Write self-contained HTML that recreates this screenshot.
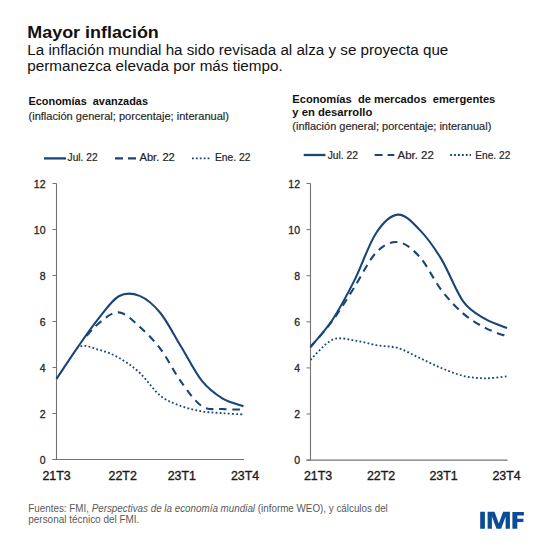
<!DOCTYPE html>
<html><head><meta charset="utf-8"><style>
html,body{margin:0;padding:0;background:#fff;}
svg{display:block;}
text{font-family:"Liberation Sans",sans-serif;white-space:pre;}
</style></head><body>
<svg width="550" height="550" viewBox="0 0 550 550">
<rect width="550" height="550" fill="#fff"/>
<defs><clipPath id="c_L_dot"><rect x="77.5" y="0" width="472.5" height="550"/></clipPath><clipPath id="c_L_dash"><rect x="84.0" y="0" width="466.0" height="550"/></clipPath></defs>
<text x="27.3" y="37.8" font-size="16.90" font-weight="bold" font-style="normal" fill="#111" text-anchor="start" textLength="131.5" lengthAdjust="spacingAndGlyphs">Mayor inflación</text>
<text x="27.3" y="54.5" font-size="14.00" font-weight="normal" font-style="normal" fill="#111" text-anchor="start" textLength="421.0" lengthAdjust="spacingAndGlyphs">La inflación mundial ha sido revisada al alza y se proyecta que</text>
<text x="27.3" y="71.4" font-size="14.00" font-weight="normal" font-style="normal" fill="#111" text-anchor="start" textLength="255.5" lengthAdjust="spacingAndGlyphs">permanezca elevada por más tiempo.</text>
<text x="28.5" y="105.0" font-size="10.30" font-weight="bold" font-style="normal" fill="#111" text-anchor="start" textLength="119.5" lengthAdjust="spacingAndGlyphs">Economías  avanzadas</text>
<text x="28.5" y="120.0" font-size="10.30" font-weight="normal" font-style="normal" fill="#262626" text-anchor="start" textLength="200.5" lengthAdjust="spacingAndGlyphs" stroke="#262626" stroke-width="0.15">(inflación general; porcentaje; interanual)</text>
<text x="292.3" y="102.8" font-size="10.30" font-weight="bold" font-style="normal" fill="#111" text-anchor="start" textLength="203.0" lengthAdjust="spacingAndGlyphs">Economías  de mercados  emergentes</text>
<text x="292.3" y="116.0" font-size="10.30" font-weight="bold" font-style="normal" fill="#111" text-anchor="start" textLength="80.0" lengthAdjust="spacingAndGlyphs">y en desarrollo</text>
<text x="292.3" y="130.0" font-size="10.30" font-weight="normal" font-style="normal" fill="#262626" text-anchor="start" textLength="199.0" lengthAdjust="spacingAndGlyphs" stroke="#262626" stroke-width="0.15">(inflación general; porcentaje; interanual)</text>
<line x1="44.0" y1="158.4" x2="66.0" y2="158.4" stroke="#194579" stroke-width="2.3"/>
<text x="67.6" y="161.4" font-size="10.30" font-weight="normal" font-style="normal" fill="#262626" text-anchor="start" textLength="30.0" lengthAdjust="spacingAndGlyphs" stroke="#262626" stroke-width="0.20">Jul. 22</text>
<line x1="115.0" y1="158.4" x2="136.0" y2="158.4" stroke="#194579" stroke-width="2.1" stroke-dasharray="8,5"/>
<text x="139.5" y="161.4" font-size="10.30" font-weight="normal" font-style="normal" fill="#262626" text-anchor="start" textLength="35.3" lengthAdjust="spacingAndGlyphs" stroke="#262626" stroke-width="0.20">Abr. 22</text>
<line x1="192.0" y1="158.4" x2="211.5" y2="158.4" stroke="#194579" stroke-width="1.8" stroke-dasharray="1.8,2.1"/>
<text x="215.0" y="161.4" font-size="10.30" font-weight="normal" font-style="normal" fill="#262626" text-anchor="start" textLength="35.5" lengthAdjust="spacingAndGlyphs" stroke="#262626" stroke-width="0.20">Ene. 22</text>
<line x1="303.7" y1="155.0" x2="325.5" y2="155.0" stroke="#194579" stroke-width="2.3"/>
<text x="327.7" y="158.7" font-size="10.30" font-weight="normal" font-style="normal" fill="#262626" text-anchor="start" textLength="30.3" lengthAdjust="spacingAndGlyphs" stroke="#262626" stroke-width="0.20">Jul. 22</text>
<line x1="374.6" y1="155.0" x2="394.3" y2="155.0" stroke="#194579" stroke-width="2.1" stroke-dasharray="8,5"/>
<text x="397.5" y="158.7" font-size="10.30" font-weight="normal" font-style="normal" fill="#262626" text-anchor="start" textLength="36.3" lengthAdjust="spacingAndGlyphs" stroke="#262626" stroke-width="0.20">Abr. 22</text>
<line x1="450.2" y1="155.0" x2="471.0" y2="155.0" stroke="#194579" stroke-width="1.8" stroke-dasharray="1.8,2.1"/>
<text x="475.3" y="158.7" font-size="10.30" font-weight="normal" font-style="normal" fill="#262626" text-anchor="start" textLength="35.0" lengthAdjust="spacingAndGlyphs" stroke="#262626" stroke-width="0.20">Ene. 22</text>
<line x1="56.5" y1="183.5" x2="56.5" y2="459.5" stroke="#737373" stroke-width="1.1"/>
<line x1="52.5" y1="459.5" x2="244.0" y2="459.5" stroke="#737373" stroke-width="1.1"/>
<line x1="52.5" y1="459.5" x2="56.5" y2="459.5" stroke="#737373" stroke-width="1"/>
<text x="45.5" y="463.6" font-size="10.50" font-weight="normal" font-style="normal" fill="#262626" text-anchor="end" stroke="#262626" stroke-width="0.30">0</text>
<line x1="52.5" y1="413.5" x2="56.5" y2="413.5" stroke="#737373" stroke-width="1"/>
<text x="45.5" y="417.6" font-size="10.50" font-weight="normal" font-style="normal" fill="#262626" text-anchor="end" stroke="#262626" stroke-width="0.30">2</text>
<line x1="52.5" y1="367.5" x2="56.5" y2="367.5" stroke="#737373" stroke-width="1"/>
<text x="45.5" y="371.6" font-size="10.50" font-weight="normal" font-style="normal" fill="#262626" text-anchor="end" stroke="#262626" stroke-width="0.30">4</text>
<line x1="52.5" y1="321.5" x2="56.5" y2="321.5" stroke="#737373" stroke-width="1"/>
<text x="45.5" y="325.6" font-size="10.50" font-weight="normal" font-style="normal" fill="#262626" text-anchor="end" stroke="#262626" stroke-width="0.30">6</text>
<line x1="52.5" y1="275.5" x2="56.5" y2="275.5" stroke="#737373" stroke-width="1"/>
<text x="45.5" y="279.6" font-size="10.50" font-weight="normal" font-style="normal" fill="#262626" text-anchor="end" stroke="#262626" stroke-width="0.30">8</text>
<line x1="52.5" y1="229.5" x2="56.5" y2="229.5" stroke="#737373" stroke-width="1"/>
<text x="45.5" y="233.6" font-size="10.50" font-weight="normal" font-style="normal" fill="#262626" text-anchor="end" stroke="#262626" stroke-width="0.30">10</text>
<line x1="52.5" y1="183.5" x2="56.5" y2="183.5" stroke="#737373" stroke-width="1"/>
<text x="45.5" y="187.6" font-size="10.50" font-weight="normal" font-style="normal" fill="#262626" text-anchor="end" stroke="#262626" stroke-width="0.30">12</text>
<text x="56.6" y="480.0" font-size="12.40" font-weight="normal" font-style="normal" fill="#1a1a1a" text-anchor="middle" stroke="#1a1a1a" stroke-width="0.35">21T3</text>
<text x="122.7" y="480.0" font-size="12.40" font-weight="normal" font-style="normal" fill="#1a1a1a" text-anchor="middle" stroke="#1a1a1a" stroke-width="0.35">22T2</text>
<text x="181.8" y="480.0" font-size="12.40" font-weight="normal" font-style="normal" fill="#1a1a1a" text-anchor="middle" stroke="#1a1a1a" stroke-width="0.35">23T1</text>
<text x="245.0" y="480.0" font-size="12.40" font-weight="normal" font-style="normal" fill="#1a1a1a" text-anchor="middle" stroke="#1a1a1a" stroke-width="0.35">23T4</text>
<line x1="310.5" y1="183.5" x2="310.5" y2="460.1" stroke="#737373" stroke-width="1.1"/>
<line x1="306.5" y1="460.1" x2="507.5" y2="460.1" stroke="#737373" stroke-width="1.1"/>
<line x1="306.5" y1="460.1" x2="310.5" y2="460.1" stroke="#737373" stroke-width="1"/>
<text x="300.0" y="464.2" font-size="10.50" font-weight="normal" font-style="normal" fill="#262626" text-anchor="end" stroke="#262626" stroke-width="0.30">0</text>
<line x1="306.5" y1="414.0" x2="310.5" y2="414.0" stroke="#737373" stroke-width="1"/>
<text x="300.0" y="418.1" font-size="10.50" font-weight="normal" font-style="normal" fill="#262626" text-anchor="end" stroke="#262626" stroke-width="0.30">2</text>
<line x1="306.5" y1="367.9" x2="310.5" y2="367.9" stroke="#737373" stroke-width="1"/>
<text x="300.0" y="372.0" font-size="10.50" font-weight="normal" font-style="normal" fill="#262626" text-anchor="end" stroke="#262626" stroke-width="0.30">4</text>
<line x1="306.5" y1="321.8" x2="310.5" y2="321.8" stroke="#737373" stroke-width="1"/>
<text x="300.0" y="325.9" font-size="10.50" font-weight="normal" font-style="normal" fill="#262626" text-anchor="end" stroke="#262626" stroke-width="0.30">6</text>
<line x1="306.5" y1="275.7" x2="310.5" y2="275.7" stroke="#737373" stroke-width="1"/>
<text x="300.0" y="279.8" font-size="10.50" font-weight="normal" font-style="normal" fill="#262626" text-anchor="end" stroke="#262626" stroke-width="0.30">8</text>
<line x1="306.5" y1="229.6" x2="310.5" y2="229.6" stroke="#737373" stroke-width="1"/>
<text x="300.0" y="233.7" font-size="10.50" font-weight="normal" font-style="normal" fill="#262626" text-anchor="end" stroke="#262626" stroke-width="0.30">10</text>
<line x1="306.5" y1="183.5" x2="310.5" y2="183.5" stroke="#737373" stroke-width="1"/>
<text x="300.0" y="187.6" font-size="10.50" font-weight="normal" font-style="normal" fill="#262626" text-anchor="end" stroke="#262626" stroke-width="0.30">12</text>
<text x="318.0" y="480.0" font-size="12.40" font-weight="normal" font-style="normal" fill="#1a1a1a" text-anchor="middle" stroke="#1a1a1a" stroke-width="0.35">21T3</text>
<text x="381.0" y="480.0" font-size="12.40" font-weight="normal" font-style="normal" fill="#1a1a1a" text-anchor="middle" stroke="#1a1a1a" stroke-width="0.35">22T2</text>
<text x="443.5" y="480.0" font-size="12.40" font-weight="normal" font-style="normal" fill="#1a1a1a" text-anchor="middle" stroke="#1a1a1a" stroke-width="0.35">23T1</text>
<text x="506.5" y="480.0" font-size="12.40" font-weight="normal" font-style="normal" fill="#1a1a1a" text-anchor="middle" stroke="#1a1a1a" stroke-width="0.35">23T4</text>
<path d="M56.50,378.85 C59.96,373.69 70.35,352.74 77.28,347.86 C84.20,342.98 91.13,347.93 98.06,349.58 C104.98,351.23 111.91,353.90 118.83,357.76 C125.76,361.62 132.69,366.42 139.61,372.75 C146.54,379.07 153.46,390.14 160.39,395.70 C167.31,401.26 174.24,403.48 181.17,406.08 C188.09,408.68 195.02,410.11 201.94,411.31 C208.87,412.50 215.80,412.70 222.72,413.22 C229.65,413.75 240.04,414.23 243.50,414.43" fill="none" stroke="#194579" stroke-width="1.8" stroke-dasharray="1.8,2.3" clip-path="url(#c_L_dot)"/>
<path d="M56.50,378.85 C59.96,373.69 70.35,357.02 77.28,347.86 C84.20,338.71 91.13,329.84 98.06,323.93 C104.98,318.01 111.91,311.91 118.83,312.37 C125.76,312.84 132.69,320.64 139.61,326.72 C146.54,332.81 153.46,339.68 160.39,348.88 C167.31,358.08 174.24,372.38 181.17,381.93 C188.09,391.48 195.02,401.67 201.94,406.19 C208.87,410.72 215.80,408.50 222.72,409.07 C229.65,409.64 240.04,409.52 243.50,409.61" fill="none" stroke="#194579" stroke-width="2.1" stroke-dasharray="7.6,5.66" stroke-dashoffset="0.5" clip-path="url(#c_L_dash)"/>
<path d="M56.50,378.85 C59.96,373.69 70.35,357.82 77.28,347.86 C84.20,337.91 91.13,327.73 98.06,319.12 C104.98,310.51 111.91,300.09 118.83,296.22 C125.76,292.35 132.69,293.09 139.61,295.89 C146.54,298.68 153.46,304.52 160.39,312.99 C167.31,321.47 174.24,335.43 181.17,346.76 C188.09,358.08 195.02,372.30 201.94,380.95 C208.87,389.59 215.80,394.44 222.72,398.65 C229.65,402.85 240.04,404.92 243.50,406.18" fill="none" stroke="#194579" stroke-width="2.1" stroke-linejoin="round"/>
<path d="M310.50,359.78 C314.14,356.44 325.06,342.97 332.33,339.73 C339.61,336.49 346.89,339.44 354.17,340.34 C361.44,341.25 368.72,343.89 376.00,345.17 C383.28,346.45 390.56,345.86 397.83,348.00 C405.11,350.14 412.39,354.66 419.67,358.01 C426.94,361.35 434.22,365.09 441.50,368.07 C448.78,371.05 456.06,374.20 463.33,375.91 C470.61,377.61 477.89,378.22 485.17,378.30 C492.44,378.38 503.36,376.72 507.00,376.40" fill="none" stroke="#194579" stroke-width="1.8" stroke-dasharray="1.8,2.3"/>
<path d="M310.50,346.99 C314.14,342.66 325.06,330.88 332.33,320.97 C339.61,311.06 346.89,298.93 354.17,287.55 C361.44,276.18 368.72,260.28 376.00,252.70 C383.28,245.12 390.56,241.38 397.83,242.08 C405.11,242.78 412.39,248.89 419.67,256.91 C426.94,264.92 434.22,280.72 441.50,290.18 C448.78,299.63 456.06,307.37 463.33,313.66 C470.61,319.94 477.89,324.07 485.17,327.87 C492.44,331.67 503.36,335.03 507.00,336.46" fill="none" stroke="#194579" stroke-width="2.1" stroke-dasharray="7.6,5.66" stroke-dashoffset="0.5"/>
<path d="M310.50,346.99 C314.14,342.49 325.06,330.98 332.33,319.96 C339.61,308.95 346.89,295.36 354.17,280.90 C361.44,266.45 368.72,244.27 376.00,233.22 C383.28,222.18 390.56,215.17 397.83,214.61 C405.11,214.05 412.39,222.43 419.67,229.88 C426.94,237.34 434.22,247.38 441.50,259.33 C448.78,271.29 456.06,291.66 463.33,301.59 C470.61,311.53 477.89,314.53 485.17,318.92 C492.44,323.31 503.36,326.43 507.00,327.94" fill="none" stroke="#194579" stroke-width="2.1" stroke-linejoin="round"/>
<text x="28.3" y="511.8" font-size="10.2" fill="#595959" textLength="359.5" lengthAdjust="spacingAndGlyphs">Fuentes: FMI, <tspan font-style="italic">Perspectivas de la economía mundial</tspan> (informe WEO), y cálculos del</text>
<text x="28.3" y="523.4" font-size="10.20" font-weight="normal" font-style="normal" fill="#595959" text-anchor="start" textLength="111.0" lengthAdjust="spacingAndGlyphs">personal técnico del FMI.</text>
<path fill="#0a4c96" d="M480.2,511.7H484.9V528.7H480.2Z M487.6,528.7V511.8H494.5L498.8,523.6L503.1,511.8H509.9V528.7H505.6V516.4L501.1,528.7H496.5L491.9,516.4V528.7Z M512.4,511.9H523.9V515.6H517.3V518.7H523.4V522.1H517.3V528.7H512.4Z"/>
</svg>
</body></html>
